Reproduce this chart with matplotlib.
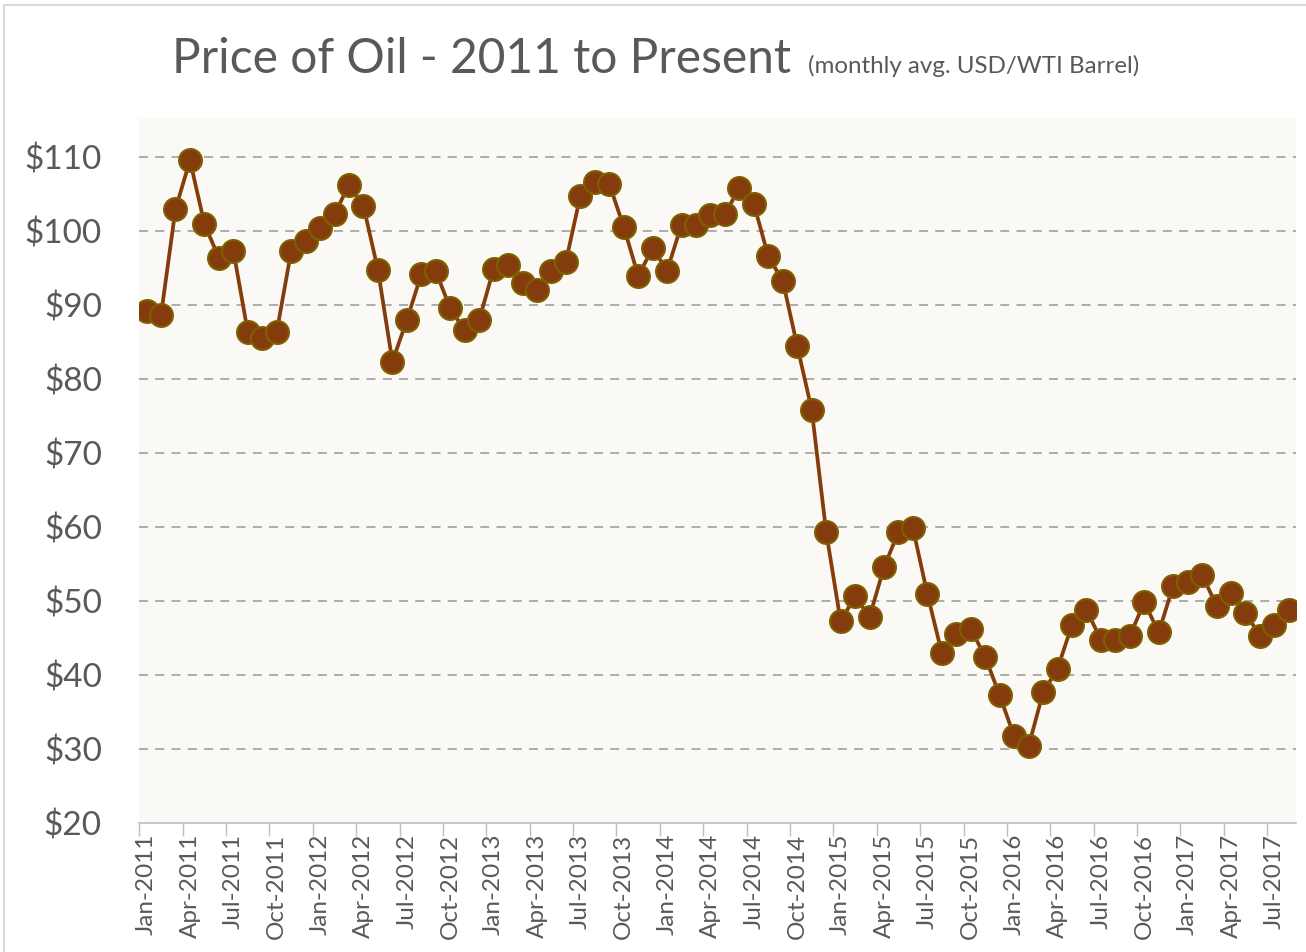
import numpy as np
import matplotlib
matplotlib.use("Agg")
import matplotlib.pyplot as plt

plt.rcParams['font.family'] = ['Lato', 'DejaVu Sans']

# monthly avg WTI price, Jan-2011 .. Aug-2017
p2011 = [89.2, 88.6, 102.9, 109.5, 100.9, 96.3, 97.3, 86.3, 85.5, 86.3, 97.2, 98.6]
p2012 = [100.3, 102.2, 106.2, 103.3, 94.7, 82.3, 87.9, 94.1, 94.5, 89.5, 86.5, 87.9]
p2013 = [94.8, 95.3, 92.9, 92.0, 94.5, 95.8, 104.7, 106.6, 106.3, 100.5, 93.9, 97.6]
p2014 = [94.6, 100.8, 100.8, 102.1, 102.2, 105.8, 103.6, 96.5, 93.2, 84.4, 75.8, 59.3]
p2015 = [47.2, 50.6, 47.8, 54.5, 59.3, 59.8, 50.9, 42.9, 45.5, 46.2, 42.4, 37.2]
p2016 = [31.7, 30.3, 37.6, 40.8, 46.7, 48.8, 44.7, 44.7, 45.2, 49.8, 45.7, 52.0]
p2017 = [52.5, 53.5, 49.3, 51.1, 48.4, 45.2, 46.7, 48.8]

months = ['Jan', 'Feb', 'Mar', 'Apr', 'May', 'Jun', 'Jul', 'Aug', 'Sep', 'Oct', 'Nov', 'Dec']
years = [2011, 2012, 2013, 2014, 2015, 2016, 2017]

price = p2011 + p2012 + p2013 + p2014 + p2015 + p2016 + p2017
labels = [m + '-' + str(y) for y in years for m in months][:len(price)]
x = np.arange(len(price))

grey = '#595959'

fig = plt.figure(figsize=(13.06, 9.52), dpi=100)
fig.patch.set_facecolor('white')
fig.add_artist(plt.Rectangle((0.003, -0.01), 1.02, 1.005, transform=fig.transFigure,
                             fill=False, edgecolor='#D9D9D9', linewidth=1.5))

ax = fig.add_axes([0.1067, 0.1358, 0.8857, 0.7402])
ax.set_facecolor('#FAF9F5')

ax.plot(x, price, color='#843C0C', linewidth=2.7, marker='o', markersize=16.5,
        markerfacecolor='#843C0C', markeredgecolor='#7F6000', markeredgewidth=1.5, zorder=3)

ax.set_ylim(20, 115.2)
ax.set_xlim(-0.5, len(price) - 0.5)

yt = np.arange(20, 111, 10)
ax.set_yticks(yt)
ax.set_yticklabels(['$' + str(v) for v in yt], fontsize=24, color=grey)
ax.tick_params(axis='y', length=0, pad=27)
for v in yt[1:]:
    ax.axhline(v, color='#A6A6A6', linewidth=1.3, linestyle=(0, (5, 4)), zorder=1)

ax.set_xticks(x[::3])
ax.set_xticklabels(labels[::3], rotation=90, fontsize=17.5, color=grey)
ax.set_xticks(np.arange(-0.5, len(price), 3), minor=True)
ax.tick_params(axis='x', which='major', length=0, pad=8)
ax.tick_params(axis='x', which='minor', length=9, color='#BFBFBF', width=1)

for s in ['top', 'right', 'left']:
    ax.spines[s].set_visible(False)
ax.spines['bottom'].set_color('#BFBFBF')
ax.spines['bottom'].set_linewidth(1.2)

fig.text(0.132, 0.9233, 'Price of Oil - 2011 to Present', fontsize=34.5, color=grey, va='baseline')
fig.text(0.619, 0.9233, '(monthly avg. USD/WTI Barrel)', fontsize=17.4, color=grey, va='baseline')

fig.savefig('out.png', dpi=100)
